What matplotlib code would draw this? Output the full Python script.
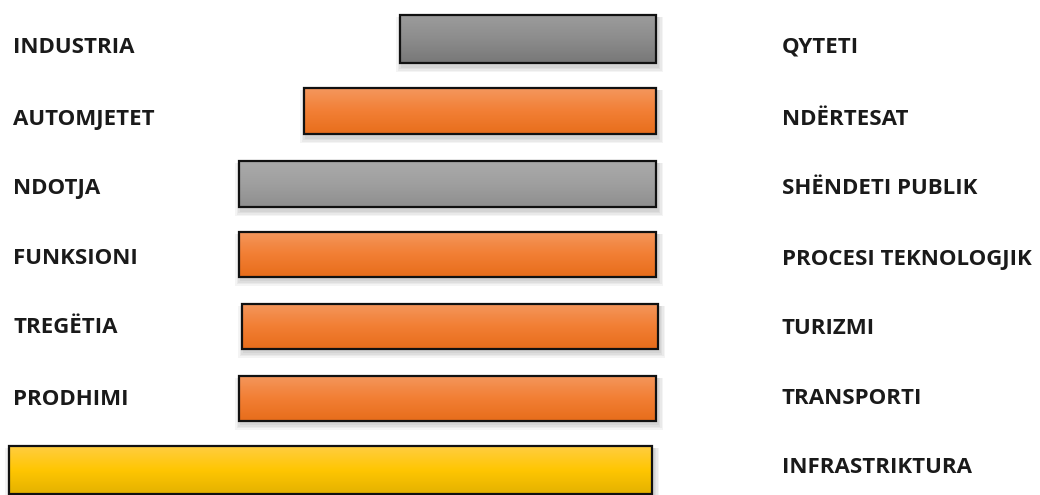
import matplotlib.pyplot as plt
import numpy as np
from matplotlib.colors import LinearSegmentedColormap
from matplotlib.patches import Rectangle

left_labels = ["INDUSTRIA", "AUTOMJETET", "NDOTJA", "FUNKSIONI", "TREGËTIA", "PRODHIMI"]
left_baseline = [53, 125, 194, 264, 333, 405]
right_labels = ["QYTETI", "NDËRTESAT", "SHËNDETI PUBLIK", "PROCESI TEKNOLOGJIK",
                "TURIZMI", "TRANSPORTI", "INFRASTRIKTURA"]
right_baseline = [53, 125, 194, 265, 334, 404, 473]

bar_start = [400, 304, 239, 239, 242, 239, 9]
bar_end = [656, 656, 656, 656, 658, 656, 652]
bar_center = [39, 111, 184, 254, 326, 398, 470]
bar_height = [48, 46, 46, 45, 45, 45, 48]
bar_kind = ["gray_dark", "orange", "gray", "orange", "orange", "orange", "yellow"]

GRADIENTS = {
    "gray_dark": ["#9c9c9c", "#8c8c8c", "#787878"],
    "gray": ["#aaaaaa", "#9f9f9f", "#8f8f8f"],
    "orange": ["#f4975d", "#f27f35", "#e86e1c"],
    "yellow": ["#ffcd40", "#ffc602", "#e4b200"],
}

plt.rcParams["font.family"] = ["Open Sans", "DejaVu Sans"]

fig = plt.figure(figsize=(10.4, 4.95), dpi=100)
ax = fig.add_axes([0, 0, 1, 1])
ax.axis("off")

widths = [e - s for s, e in zip(bar_start, bar_end)]
bars = ax.barh(bar_center, widths, left=bar_start, height=bar_height,
               color="none", edgecolor="#111111", linewidth=1.6, zorder=3)

for bar, kind in zip(bars, bar_kind):
    x0, y0 = bar.get_x(), bar.get_y()
    w, h = bar.get_width(), bar.get_height()
    # soft shadow round the bar
    for k in range(4):
        off = 1.5 * (k + 1)
        ax.add_patch(Rectangle((x0 - off + 2, y0 + 2), w + 2 * off - 1, h + off + 1,
                               facecolor="#000000", alpha=0.045, linewidth=0, zorder=1))
    cmap = LinearSegmentedColormap.from_list(kind, GRADIENTS[kind])
    grad = np.linspace(0, 1, 64).reshape(-1, 1)
    im = ax.imshow(grad, cmap=cmap, aspect="auto",
                   extent=[x0, x0 + w, y0 + h, y0], zorder=2, interpolation="bicubic")
    im.set_clip_path(Rectangle((x0, y0), w, h, transform=ax.transData))

ax.set_xlim(0, 1040)
ax.set_ylim(495, 0)

for lab, y in zip(left_labels, left_baseline):
    ax.text(13, y, lab, fontsize=16, fontweight="bold", color="#1a1a1a",
            va="baseline", ha="left")
for lab, y in zip(right_labels, right_baseline):
    ax.text(782, y, lab, fontsize=16, fontweight="bold", color="#1a1a1a",
            va="baseline", ha="left")

fig.savefig("out.png", dpi=100)
